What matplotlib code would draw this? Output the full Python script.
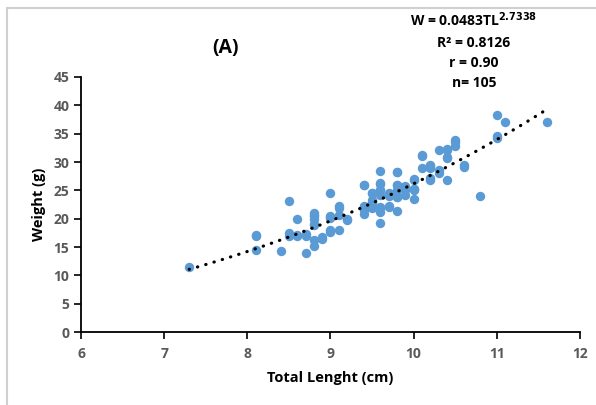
import numpy as np
import matplotlib.pyplot as plt
from matplotlib.patches import Rectangle

# Longueur totale (cm) et poids (g)
total_length = [7.3,
                8.1, 8.1, 8.1, 8.4, 8.5, 8.5, 8.5, 8.6, 8.6, 8.6,
                8.7, 8.7, 8.7, 8.8, 8.8, 8.8, 8.8, 8.8, 8.8, 8.8,
                8.9, 8.9, 9.0, 9.0, 9.0, 9.0, 9.0, 9.1, 9.1, 9.1,
                9.1, 9.2, 9.2, 9.4, 9.4, 9.4, 9.4, 9.4, 9.5, 9.5,
                9.5, 9.5, 9.5, 9.6, 9.6, 9.6, 9.6, 9.6, 9.6, 9.6,
                9.6, 9.6, 9.7, 9.7, 9.7, 9.7, 9.8, 9.8, 9.8, 9.8,
                9.8, 9.8, 9.8, 9.9, 9.9, 9.9, 10.0, 10.0, 10.0, 10.0,
                10.0, 10.1, 10.1, 10.1, 10.2, 10.2, 10.2, 10.2, 10.3, 10.3,
                10.3, 10.4, 10.4, 10.4, 10.4, 10.4, 10.5, 10.5, 10.5, 10.6,
                10.6, 10.8, 11.0, 11.0, 11.0, 11.1, 11.6,
                9.6, 9.8, 10.0, 9.4, 9.0, 8.8, 10.2, 9.5]
weight = [11.4,
          17.0, 14.4, 17.2, 14.3, 23.2, 17.4, 17.0, 19.9, 17.2, 16.9,
          17.3, 14.0, 17.0, 21.0, 20.0, 19.1, 16.2, 15.1, 18.9, 20.5,
          16.8, 16.4, 24.6, 20.5, 18.0, 20.2, 17.7, 22.2, 20.6, 18.0,
          21.8, 20.0, 19.8, 25.9, 22.3, 20.8, 21.5, 26.0, 24.5, 23.3,
          21.8, 22.7, 24.5, 28.5, 26.1, 25.1, 22.1, 21.2, 19.3, 24.2,
          21.8, 26.3, 24.5, 22.1, 22.2, 24.0, 28.3, 26.0, 23.9, 21.4,
          28.2, 25.9, 23.8, 25.1, 25.7, 24.2, 27.0, 25.2, 23.4, 26.9,
          25.1, 31.3, 28.9, 31.1, 29.5, 26.9, 29.3, 27.1, 32.2, 28.6,
          28.1, 32.2, 30.7, 26.9, 30.9, 32.3, 33.9, 32.8, 33.6, 29.4,
          29.2, 24.0, 38.3, 34.5, 34.2, 37.1, 37.1,
          25.0, 25.0, 25.3, 22.0, 20.3, 20.6, 29.0, 23.0]

# Courbe de tendance : W = 0.0483 TL^2.7338
coef_a = 0.0483
coef_b = 2.7338

plt.rcParams['font.family'] = ['Open Sans', 'DejaVu Sans']

fig = plt.figure(figsize=(5.96, 4.05), dpi=100)
ax = fig.add_axes([0.136, 0.180, 0.837, 0.630])

ax.scatter(total_length, weight, s=46, color='#5B9BD5', zorder=2, linewidths=0)

tl = np.linspace(min(total_length), max(total_length), 100)
ax.plot(tl, coef_a * tl ** coef_b, color='black', linestyle=(0, (0.1, 2.6)),
        linewidth=2.3, dash_capstyle='round', zorder=3)

ax.set_xlim(6, 12)
ax.set_ylim(0, 45)
ax.set_xticks(range(6, 13))
ax.set_yticks(range(0, 46, 5))
ax.spines['top'].set_visible(False)
ax.spines['right'].set_visible(False)
for s in ['left', 'bottom']:
    ax.spines[s].set_linewidth(1.3)
ax.tick_params(length=5, width=1.2, colors='black', labelcolor='#595959',
               labelsize=10)
ax.tick_params(axis='x', pad=6)
for lab in ax.get_xticklabels() + ax.get_yticklabels():
    lab.set_fontweight('bold')

ax.set_xlabel('Total Lenght (cm)', fontsize=10.5, fontweight='bold', labelpad=7)
ax.set_ylabel('Weight (g)', fontsize=10.5, fontweight='bold', labelpad=5)

fig.text(0.378, 0.868, '(A)', fontsize=14, fontweight='bold', ha='center')
fig.text(0.795, 0.935, r'W = 0.0483TL$^{\mathbf{2.7338}}$', fontsize=10,
         fontweight='bold', ha='center')
fig.text(0.795, 0.885, 'R² = 0.8126', fontsize=10, fontweight='bold', ha='center')
fig.text(0.795, 0.835, 'r = 0.90', fontsize=10, fontweight='bold', ha='center')
fig.text(0.795, 0.785, 'n= 105', fontsize=10, fontweight='bold', ha='center')

# cadre gris du graphique
fig.add_artist(Rectangle((0.012, -0.05), 1.1, 1.03, transform=fig.transFigure,
                         fill=False, edgecolor='#D0D0D0', linewidth=1.5))

fig.savefig('out.png', dpi=100)
